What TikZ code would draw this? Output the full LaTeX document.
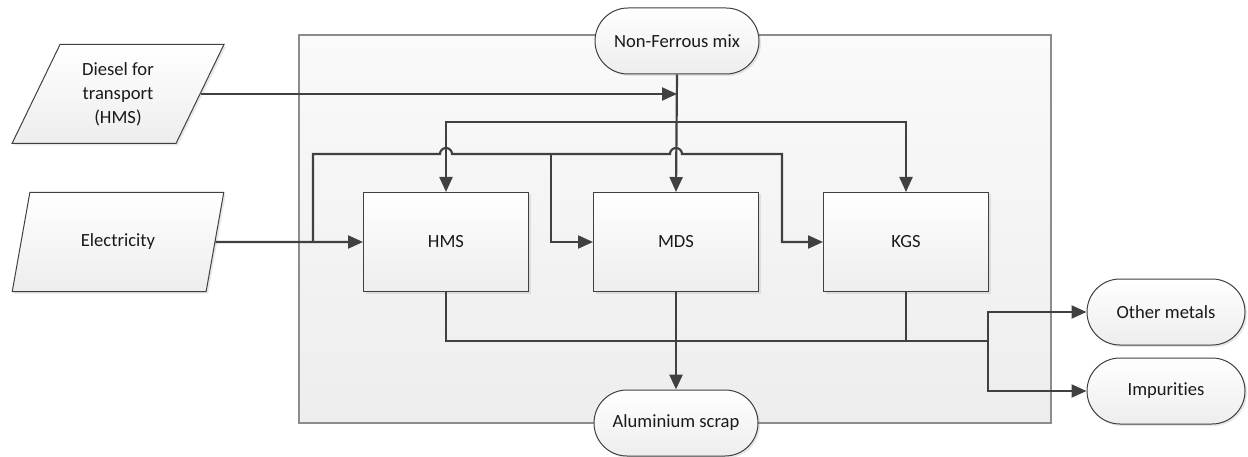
\documentclass[tikz,border=0pt]{standalone}
\usepackage{fontspec}
\setmainfont{Carlito}[Ligatures=CommonOff]
\usetikzlibrary{shapes.geometric,shapes.misc,arrows.meta,shadows}
\definecolor{ink}{HTML}{404040}
\definecolor{txt}{HTML}{1A1A1A}
\tikzset{
  every node/.style={font=\fontsize{18.6}{24}\selectfont, text=txt},
  boxshade/.style={top color=white, bottom color=black!7, draw=ink, line width=1pt,
    drop shadow={opacity=0.18, shadow xshift=2pt, shadow yshift=-2pt}},
  procbox/.style={boxshade, rectangle, minimum width=165pt, minimum height=99pt, inner sep=0pt},
  termbox/.style={boxshade, rounded rectangle, minimum width=164pt, minimum height=66pt, inner sep=0pt},
  databox/.style={boxshade, trapezium, trapezium left angle=65, trapezium right angle=115,
    trapezium stretches=true, minimum width=212pt, minimum height=99pt, inner sep=0pt,
    align=center},
  sysbox/.style={rectangle, top color=black!2, bottom color=black!7, draw=black!45,
    line width=1.2pt, inner sep=0pt},
  flow/.style={draw=ink, line width=2.2pt},
  conn/.style={flow, -{Triangle[length=15pt,width=13pt]}},
}
\begin{document}
\begin{tikzpicture}[x=1pt,y=-1pt]
\useasboundingbox (0,0) rectangle (1248,457);

% system boundary
\node[sysbox, minimum width=752pt, minimum height=388pt] (sys) at (675,229) {};

% inputs and outputs
\node[termbox] (nf) at (677,41) {Non-Ferrous mix};
\node[termbox] (al) at (676,423) {Aluminium scrap};
\node[termbox, minimum width=158pt] (om) at (1166,312) {Other metals};
\node[termbox, minimum width=158pt] (imp) at (1166,391) {Impurities};
\node[databox] (diesel) at (118,94) {Diesel for\\transport\\(HMS)};
\node[databox] (elec) at (118,242) {Electricity};

% sorting processes
\node[procbox] (hms) at (446,242) {HMS};
\node[procbox] (mds) at (676,242) {MDS};
\node[procbox] (kgs) at (906,242) {KGS};

% junction points
\coordinate (jt) at (677,122);
\coordinate (e1) at (313,242);
\coordinate (e2) at (313,154);
\coordinate (b1) at (551,154);
\coordinate (b2) at (782,154);
\coordinate (h1) at (hms.north |- e2);
\coordinate (h2) at (mds.north |- e2);
\coordinate (jo) at (988,341);

% material feed
\draw[conn] (diesel.east) -- (diesel.east -| nf.south);
\draw[conn] (nf.south) -- (mds.north);
\draw[conn] (jt) -| (hms.north);
\draw[conn] (jt) -| (kgs.north);

% electricity supply, hopping over the feed lines
\draw[conn] (elec.east) -- (hms.west);
\draw[conn] (e1) -- (e2) -- ([xshift=-6pt]h1)
  arc[start angle=180, end angle=0, radius=6pt] -- ([xshift=-6pt]h2)
  arc[start angle=180, end angle=0, radius=6pt] -- (b2) |- (kgs.west);
\draw[conn] (b1) |- (mds.west);

% outputs
\draw[flow] (hms.south) |- (jo);
\draw[flow] (kgs.south) -- (kgs.south |- jo);
\draw[conn, line width=2.8pt] (mds.south) -- (al.north);
\draw[conn] (jo) |- (om.west);
\draw[conn] (jo) |- (imp.west);
\end{tikzpicture}
\end{document}
